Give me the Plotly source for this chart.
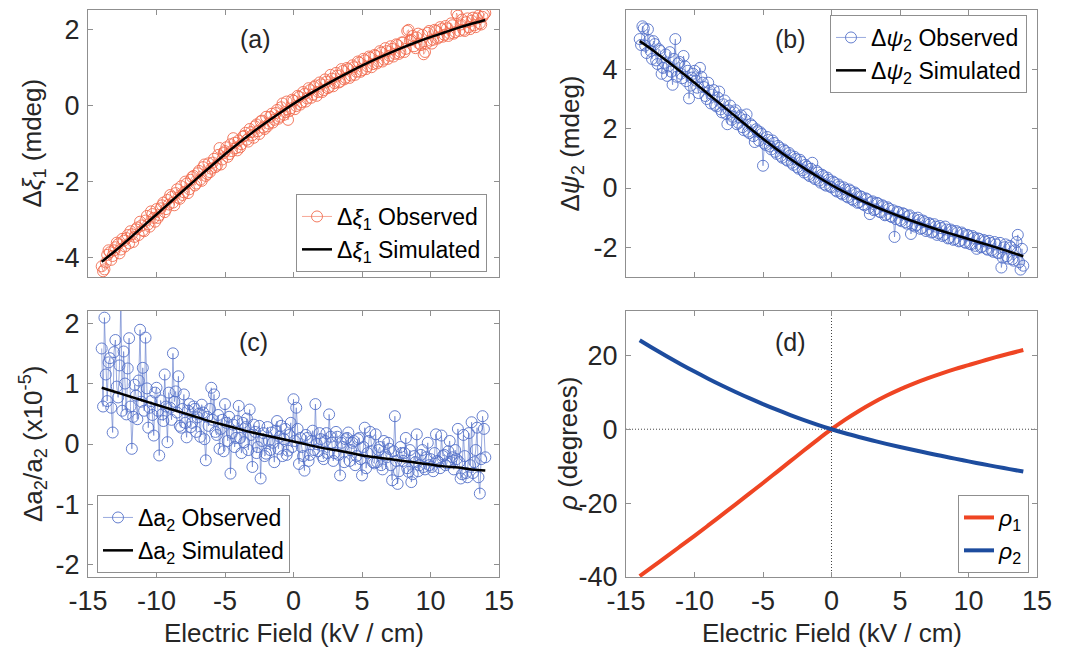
import numpy as np
import plotly.graph_objects as go

# ---------------------------------------------------------------- data
# measured curves, field sweep -14 ... 14 kV/cm in 0.1 kV/cm steps
XI1_OBS = [
    -4.22, -4.35, -4.30, -4.12, -3.92, -3.80, -3.85, -4.05, -3.95, -3.80,
    -3.72, -3.60, -3.64, -3.88, -3.78, -3.50, -3.55, -3.70, -3.48, -3.40,
    -3.62, -3.30, -3.38, -3.58, -3.45, -3.25, -3.20, -3.40, -3.05, -3.15,
    -3.28, -3.30, -3.02, -2.90, -3.12, -3.18, -2.78, -2.85, -2.95, -3.05,
    -2.72, -2.95, -2.88, -2.70, -2.62, -2.55, -2.80, -2.72, -2.48, -2.60,
    -2.35, -2.40, -2.55, -2.62, -2.30, -2.20, -2.42, -2.45, -2.12, -2.35,
    -2.28, -2.00, -2.05, -2.30, -2.20, -1.95, -1.88, -1.85, -2.10, -2.05,
    -1.78, -1.72, -1.95, -1.98, -1.62, -1.55, -1.85, -1.80, -1.52, -1.75,
    -1.66, -1.50, -1.40, -1.62, -1.58, -1.30, -1.12, -1.55, -1.42, -1.25,
    -1.20, -1.10, -1.35, -1.28, -1.02, -1.20, -0.86, -0.98, -1.12, -1.18,
    -0.92, -1.10, -1.02, -0.82, -0.80, -0.72, -0.90, -0.95, -0.62, -0.70,
    -0.78, -0.85, -0.55, -0.50, -0.68, -0.75, -0.42, -0.40, -0.58, -0.62,
    -0.30, -0.55, -0.48, -0.30, -0.22, -0.45, -0.38, -0.20, -0.12, -0.35,
    -0.30, -0.05, 0.05, -0.25, -0.18, 0.10, -0.38, -0.15, -0.08, 0.15,
    0.12, -0.10, -0.02, 0.25, 0.22, 0.02, 0.08, 0.35, 0.30, 0.10,
    0.18, 0.45, 0.40, 0.20, 0.28, 0.48, 0.52, 0.25, 0.35, 0.60,
    0.55, 0.35, 0.40, 0.68, 0.62, 0.45, 0.48, 0.80, 0.70, 0.50,
    0.58, 0.85, 0.78, 0.60, 0.62, 0.95, 0.90, 0.68, 0.72, 0.98,
    0.95, 0.72, 0.78, 1.05, 1.00, 0.80, 0.88, 1.15, 1.12, 0.88,
    0.92, 1.22, 1.18, 0.95, 1.02, 1.28, 1.25, 1.00, 1.08, 1.32,
    1.30, 1.10, 1.15, 1.42, 1.38, 1.15, 1.20, 1.50, 1.42, 1.22,
    1.30, 1.55, 1.48, 1.28, 1.35, 1.60, 1.58, 1.35, 1.40, 1.65,
    1.65, 1.40, 1.48, 1.95, 1.98, 1.70, 1.72, 1.82, 1.55, 1.50,
    1.78, 1.88, 1.62, 1.58, 1.85, 1.34, 1.40, 1.62, 1.90, 1.95,
    1.70, 1.62, 1.72, 1.98, 1.95, 1.75, 1.78, 2.05, 2.00, 1.80,
    1.85, 2.08, 2.02, 1.82, 1.88, 2.15, 2.10, 1.88, 1.92, 2.42,
    2.35, 1.95, 2.12, 2.25, 1.98, 1.95, 2.18, 2.28, 2.05, 2.00,
    2.22, 2.30, 2.10, 2.05, 2.28, 2.35, 2.15, 2.12, 2.32, 2.38,
    2.42,
]
PSI2_OBS = [
    5.02, 4.82, 5.45, 5.38, 4.80, 4.55, 5.35, 4.98, 4.62, 4.35,
    4.95, 4.85, 4.30, 4.18, 4.68, 4.62, 3.85, 4.05, 4.22, 4.50,
    3.78, 4.10, 4.58, 3.92, 3.48, 4.35, 5.02, 3.75, 4.20, 4.25,
    3.85, 3.70, 4.45, 4.10, 3.60, 3.95, 3.02, 3.45, 3.72, 3.85,
    3.95, 3.62, 3.38, 3.20, 4.05, 3.75, 3.55, 3.40, 3.10, 3.00,
    3.55, 3.28, 2.85, 3.15, 3.30, 2.80, 2.75, 3.05, 3.25, 2.65,
    2.55, 2.82, 2.95, 2.50, 2.15, 2.62, 2.78, 2.30, 2.40, 2.55,
    2.62, 2.15, 2.20, 2.38, 2.45, 2.05, 1.95, 2.30, 2.48, 1.90,
    1.85, 2.15, 2.10, 1.75, 1.55, 1.98, 1.92, 1.60, 1.88, 1.82,
    0.75, 1.50, 1.45, 1.72, 1.62, 1.40, 1.30, 1.60, 1.52, 1.22,
    1.15, 1.42, 1.36, 1.08, 1.02, 1.30, 1.25, 0.95, 0.92, 1.18,
    1.10, 0.85, 0.78, 1.05, 0.98, 0.70, 0.65, 0.95, 0.88, 0.60,
    0.52, 0.78, 0.72, 0.45, 0.40, 0.65, 0.85, 0.35, 0.30, 0.58,
    0.52, 0.25, 0.18, 0.45, 0.40, 0.12, 0.08, 0.35, 0.28, 0.05,
    0.02, 0.22, 0.18, -0.08, -0.12, 0.12, 0.05, -0.18, -0.22, 0.02,
    -0.05, -0.28, -0.32, -0.05, -0.10, -0.38, -0.42, -0.15, -0.20, -0.50,
    -0.48, -0.28, -0.30, -0.55, -0.58, -0.35, -0.38, -0.68, -0.88, -0.48,
    -0.45, -0.75, -0.72, -0.50, -0.52, -0.80, -0.82, -0.58, -0.62, -0.92,
    -0.90, -0.65, -0.70, -0.95, -0.98, -0.75, -1.65, -1.05, -0.80, -0.82,
    -1.08, -1.12, -0.85, -0.88, -1.15, -1.20, -0.95, -0.92, -1.55, -1.25,
    -1.02, -1.30, -1.25, -1.00, -1.08, -1.38, -1.35, -1.10, -1.15, -1.45,
    -1.40, -1.18, -1.22, -1.50, -1.48, -1.22, -1.30, -1.58, -1.52, -1.28,
    -1.35, -1.62, -1.58, -1.30, -1.40, -1.70, -1.68, -1.40, -1.45, -1.75,
    -1.72, -1.45, -1.50, -1.80, -1.78, -1.50, -1.55, -1.82, -1.85, -1.58,
    -1.60, -1.88, -1.90, -1.62, -1.68, -1.95, -2.05, -1.70, -1.72, -2.00,
    -1.98, -1.75, -1.80, -2.05, -2.08, -1.78, -1.85, -2.10, -2.15, -1.82,
    -1.90, -2.18, -2.20, -1.85, -2.68, -2.35, -2.00, -1.90, -2.30, -2.38,
    -1.95, -2.00, -2.40, -2.45, -2.10, -1.82, -1.58, -2.50, -2.75, -2.05,
    -2.62,
]
A2_OBS = [
    1.58, 0.62, 2.09, 1.15, 0.71, 1.35, 1.42, 0.60, 0.19, 1.52,
    1.72, 0.95, 0.77, 1.30, 2.40, 0.55, 1.53, 1.00, 0.49, 1.25,
    1.75, 0.62, -0.08, 0.45, 0.98, 0.80, 0.41, 1.05, 1.89, 0.70,
    1.26, 0.55, 1.76, 0.92, 0.27, 0.60, 0.71, 0.48, 0.14, 0.85,
    0.93, 0.55, -0.19, 0.72, 0.49, 0.38, 1.15, 0.62, 0.03, 0.85,
    0.60, 0.40, 1.50, 0.70, 0.87, 0.52, 1.12, 0.30, 0.27, 0.58,
    0.82, 0.35, 0.11, 0.55, 0.66, 0.28, 0.35, 0.62, 0.58, 0.20,
    0.44, 0.50, 0.12, 0.65, 0.52, 0.08, -0.27, 0.45, 0.30, 0.58,
    0.93, 0.40, 0.82, 0.20, 0.15, 0.48, -0.08, 0.25, 0.40, -0.12,
    0.66, 0.35, 0.05, 0.45, -0.49, 0.18, 0.32, -0.05, 0.10, 0.38,
    0.63, 0.10, -0.15, 0.35, 0.03, 0.28, 0.42, -0.10, 0.57, 0.15,
    -0.38, 0.32, 0.20, -0.15, -0.05, 0.30, -0.57, 0.05, 0.18, -0.20,
    -0.16, 0.28, 0.05, -0.10, 0.19, 0.02, -0.30, 0.22, 0.38, -0.08,
    0.12, 0.30, -0.20, 0.08, 0.25, -0.18, -0.11, 0.15, 0.35, -0.05,
    0.74, 0.05, 0.60, 0.25, -0.33, 0.10, -0.05, -0.20, -0.44, 0.15,
    0.10, -0.28, -0.18, 0.05, 0.22, -0.10, 0.66, 0.00, -0.12, 0.18,
    0.08, -0.20, -0.25, 0.05, 0.18, -0.15, 0.49, 0.12, 0.02, -0.28,
    -0.15, 0.20, 0.12, -0.18, -0.52, 0.02, -0.05, -0.30, 0.08, 0.10,
    0.19, -0.28, -0.10, 0.02, 0.05, -0.35, -0.20, 0.08, 0.10, -0.25,
    -0.52, -0.05, 0.27, -0.40, -0.15, 0.05, 0.20, -0.12, -0.30, -0.32,
    0.16, -0.30, -0.10, -0.05, -0.35, -0.42, 0.05, -0.18, -0.22, 0.02,
    -0.08, -0.35, -0.60, -0.12, 0.46, -0.28, -0.66, -0.45, -0.05, -0.15,
    -0.28, -0.15, 0.10, -0.40, -0.46, -0.10, -0.63, -0.50, -0.20, -0.30,
    0.16, -0.45, -0.35, -0.18, -0.10, -0.38, -0.42, -0.22, 0.02, -0.35,
    -0.25, -0.38, -0.45, -0.15, 0.16, -0.28, -0.30, -0.40, 0.14, -0.20,
    -0.18, -0.35, -0.32, -0.12, 0.05, -0.30, -0.22, -0.42, -0.10, -0.25,
    0.25, -0.30, -0.57, -0.50, 0.15, -0.20, -0.48, -0.55, 0.18, -0.35,
    0.36, -0.48, -0.30, -0.10, 0.27, -0.55, -0.82, -0.25, 0.46, 0.25,
    -0.22,
]

# model curves, sampled every 1 kV/cm from -14 to 14
E_SIM = list(range(-14, 15))
XI1_SIM = [-4.10, -3.81, -3.50, -3.18, -2.86, -2.54, -2.22, -1.90, -1.59, -1.28,
           -0.99, -0.71, -0.45, -0.20, 0.04, 0.26, 0.47, 0.67, 0.86, 1.04,
           1.21, 1.37, 1.52, 1.66, 1.79, 1.91, 2.03, 2.14, 2.24]
PSI2_SIM = [4.95, 4.63, 4.28, 3.92, 3.55, 3.17, 2.79, 2.41, 2.03, 1.66,
            1.31, 0.98, 0.67, 0.38, 0.10, -0.15, -0.38, -0.59, -0.78, -0.96,
            -1.13, -1.29, -1.44, -1.58, -1.72, -1.86, -2.00, -2.15, -2.30]
A2_SIM = [0.93, 0.86, 0.79, 0.72, 0.65, 0.58, 0.51, 0.44, 0.37, 0.31,
          0.25, 0.19, 0.14, 0.09, 0.04, -0.01, -0.06, -0.10, -0.14, -0.19,
          -0.22, -0.25, -0.28, -0.31, -0.34, -0.37, -0.39, -0.42, -0.44]
RHO1 = [-39.75, -37.05, -34.35, -31.6, -28.85, -26.05, -23.2, -20.35, -17.45, -14.55,
        -11.6, -8.65, -5.7, -2.8, 0.0, 2.6, 4.95, 7.1, 9.05, 10.8,
        12.35, 13.75, 15.05, 16.25, 17.35, 18.45, 19.5, 20.5, 21.45]
RHO2 = [24.08, 21.84, 19.68, 17.6, 15.6, 13.68, 11.84, 10.08, 8.4, 6.8,
        5.28, 3.84, 2.48, 1.2, 0.0, -1.1, -2.1, -3.05, -3.95, -4.8,
        -5.62, -6.42, -7.2, -7.96, -8.7, -9.42, -10.12, -10.8, -11.46]

X_TICKS = [-15, -10, -5, 0, 5, 10, 15]
Y_TICKS_A = [-4, -2, 0, 2]
Y_TICKS_B = [-2, 0, 2, 4, 6]
Y_TICKS_C = [-2, -1, 0, 1, 2]
Y_TICKS_D = [-40, -20, 0, 20]


def field_grid(values):
    return np.linspace(-14, 14, len(values))


# ---------------------------------------------------------------- style
FONT = "Liberation Sans, Arial, sans-serif"
TXT = "#262626"
BOX = "#8f8f8f"
RED_PTS = "#F26C4F"
BLUE_PTS = "#5470C8"
RED_LINE = "#EF4523"
BLUE_LINE = "#1D4C9E"
TICK_SIZE = 27
TITLE_SIZE = 26

W, H = 1071, 650
LEFT_X = (88 / W, 499 / W)
RIGHT_X = (626 / W, 1037 / W)
TOP_Y = ((650 - 277) / H, (650 - 10) / H)
BOT_Y = ((650 - 577) / H, (650 - 311) / H)


def label(v):
    return str(v)


def xaxis_cfg(domain, anchor, show_labels):
    return dict(
        domain=list(domain), anchor=anchor, range=[-15, 15],
        tickvals=X_TICKS, ticktext=[label(v) for v in X_TICKS],
        showticklabels=show_labels, automargin=False,
        showline=True, linecolor=BOX, linewidth=1, mirror="allticks",
        ticks="inside", ticklen=5, tickcolor=BOX,
        showgrid=False, zeroline=False,
        tickfont=dict(family=FONT, size=TICK_SIZE, color=TXT),
    )


def yaxis_cfg(domain, anchor, rng, ticks):
    return dict(
        domain=list(domain), anchor=anchor, range=rng,
        tickvals=ticks, ticktext=[label(v) for v in ticks],
        automargin=False, ticklabelstandoff=2,
        showline=True, linecolor=BOX, linewidth=1, mirror="allticks",
        ticks="inside", ticklen=5, tickcolor=BOX,
        showgrid=False, zeroline=False,
        tickfont=dict(family=FONT, size=TICK_SIZE, color=TXT),
    )


fig = go.Figure()

obs_marker = dict(symbol="circle-open", size=11, line=dict(width=0.9))

# (a)
fig.add_trace(go.Scatter(
    x=field_grid(XI1_OBS), y=XI1_OBS, mode="lines+markers",
    line=dict(color=RED_PTS, width=0.6), marker=dict(color=RED_PTS, **obs_marker),
    name="Δ<i>ξ</i><sub>1</sub> Observed", xaxis="x", yaxis="y", legend="legend"))
fig.add_trace(go.Scatter(
    x=E_SIM, y=XI1_SIM, mode="lines", line=dict(color="black", width=2.5, shape="spline"),
    name="Δ<i>ξ</i><sub>1</sub> Simulated", xaxis="x", yaxis="y", legend="legend"))

# (b)
fig.add_trace(go.Scatter(
    x=field_grid(PSI2_OBS), y=PSI2_OBS, mode="lines+markers",
    line=dict(color=BLUE_PTS, width=0.6), marker=dict(color=BLUE_PTS, **obs_marker),
    name="Δ<i>ψ</i><sub>2</sub> Observed", xaxis="x2", yaxis="y2", legend="legend2"))
fig.add_trace(go.Scatter(
    x=E_SIM, y=PSI2_SIM, mode="lines", line=dict(color="black", width=2.5, shape="spline"),
    name="Δ<i>ψ</i><sub>2</sub> Simulated", xaxis="x2", yaxis="y2", legend="legend2"))

# (c)
fig.add_trace(go.Scatter(
    x=field_grid(A2_OBS), y=A2_OBS, mode="lines+markers",
    line=dict(color=BLUE_PTS, width=0.6), marker=dict(color=BLUE_PTS, **obs_marker),
    name="Δa<sub>2</sub> Observed", xaxis="x3", yaxis="y3", legend="legend3"))
fig.add_trace(go.Scatter(
    x=E_SIM, y=A2_SIM, mode="lines", line=dict(color="black", width=2.5, shape="spline"),
    name="Δa<sub>2</sub> Simulated", xaxis="x3", yaxis="y3", legend="legend3"))

# (d)
fig.add_trace(go.Scatter(
    x=E_SIM, y=RHO1, mode="lines", line=dict(color=RED_LINE, width=4, shape="spline"),
    name="<i>ρ</i><sub>1</sub>", xaxis="x4", yaxis="y4", legend="legend4"))
fig.add_trace(go.Scatter(
    x=E_SIM, y=RHO2, mode="lines", line=dict(color=BLUE_LINE, width=4, shape="spline"),
    name="<i>ρ</i><sub>2</sub>", xaxis="x4", yaxis="y4", legend="legend4"))

# dotted reference lines through the origin of (d)
DOT = dict(color="#444444", width=1, dash="1px,2px")
fig.add_shape(type="line", xref="x4", yref="y4 domain", x0=0, x1=0, y0=0, y1=1,
              line=DOT, layer="below")
fig.add_shape(type="line", xref="x4 domain", yref="y4", x0=0, x1=1, y0=0, y1=0,
              line=DOT, layer="below")


def legend_cfg(x, y, xanchor, yanchor):
    return dict(
        x=x, y=y, xanchor=xanchor, yanchor=yanchor, xref="paper", yref="paper",
        bgcolor="white", bordercolor=BOX, borderwidth=1,
        font=dict(family=FONT, size=23, color="black"),
        itemwidth=30, tracegroupgap=0,
    )


annotations = []


def text(x, y, s, size=TITLE_SIZE, angle=0):
    annotations.append(dict(
        x=x, y=y, xref="paper", yref="paper", text=s, showarrow=False,
        textangle=angle, xanchor="center", yanchor="middle",
        font=dict(family=FONT, size=size, color=TXT)))


# panel tags
for xs, ys, tag in [(255, 39, "(a)"), (790, 39, "(b)"), (253, 342, "(c)"), (790, 342, "(d)")]:
    text(xs / W, (H - ys) / H, tag, size=25)

# axis titles
text(33 / W, (H - 143.5) / H, "Δ<i>ξ</i><sub>1</sub> (mdeg)", angle=-90)
text(571 / W, (H - 143.5) / H, "Δ<i>ψ</i><sub>2</sub> (mdeg)", angle=-90)
text(33 / W, (H - 444) / H, "Δa<sub>2</sub>/a<sub>2</sub> (x10<sup>-5</sup>)", angle=-90)
text(568 / W, (H - 444) / H, "<i>ρ</i> (degrees)", angle=-90)
text(293.5 / W, (H - 633) / H, "Electric Field (kV / cm)")
text(831.5 / W, (H - 633) / H, "Electric Field (kV / cm)")

fig.update_layout(
    template="none",
    width=W, height=H, margin=dict(l=0, r=0, t=0, b=0, pad=0, autoexpand=False),
    paper_bgcolor="white", plot_bgcolor="white",
    showlegend=True,
    xaxis=xaxis_cfg(LEFT_X, "y", False),
    yaxis=yaxis_cfg(TOP_Y, "x", [-4.5, 2.5], Y_TICKS_A),
    xaxis2=xaxis_cfg(RIGHT_X, "y2", False),
    yaxis2=yaxis_cfg(TOP_Y, "x2", [-3, 6], Y_TICKS_B),
    xaxis3=xaxis_cfg(LEFT_X, "y3", True),
    yaxis3=yaxis_cfg(BOT_Y, "x3", [-2.2, 2.2], Y_TICKS_C),
    xaxis4=xaxis_cfg(RIGHT_X, "y4", True),
    yaxis4=yaxis_cfg(BOT_Y, "x4", [-40, 32], Y_TICKS_D),
    legend=legend_cfg(487 / W, (H - 272) / H, "right", "bottom"),
    legend2=legend_cfg(1027 / W, (H - 15) / H, "right", "top"),
    legend3=legend_cfg(97 / W, (H - 573) / H, "left", "bottom"),
    legend4=legend_cfg(1029 / W, (H - 573) / H, "right", "bottom"),
    annotations=annotations,
)

fig.write_html("out.html")
